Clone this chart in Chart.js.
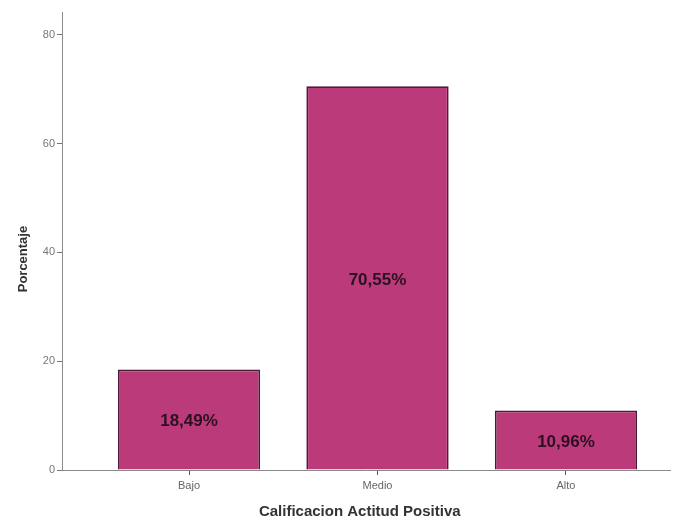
<!DOCTYPE html>
<html>
<head>
<meta charset="utf-8">
<script src="https://cdn.jsdelivr.net/npm/chart.js@4/dist/chart.umd.min.js"></script>
<style>
  html, body { margin: 0; padding: 0; background: #fff; }
  #wrap { width: 679px; height: 519px; }
</style>
</head>
<body>
<div id="wrap"><canvas id="barChart" width="679" height="519"></canvas></div>
<script>
// Calificacion Actitud Positiva (porcentaje)
const categories = ['Bajo', 'Medio', 'Alto'];
const percentages = [18.49, 70.55, 10.96];
const yTicks = [0, 20, 40, 60, 80];

const fmtPct = v => v.toFixed(2).replace('.', ',') + '%';

// labels inside each bar, centred
const barLabels = {
  id: 'barLabels',
  afterDatasetsDraw(chart) {
    const ctx = chart.ctx;
    const meta = chart.getDatasetMeta(0);
    ctx.save();
    ctx.font = 'bold 17px "Liberation Sans", Arial, sans-serif';
    ctx.fillStyle = '#2b1022';
    ctx.textAlign = 'center';
    ctx.textBaseline = 'middle';
    meta.data.forEach((bar, i) => {
      ctx.fillText(fmtPct(percentages[i]), bar.x, (bar.y + bar.base) / 2 + 2);
    });
    ctx.restore();
  }
};

const ctxBar = document.getElementById('barChart').getContext('2d');
new Chart(ctxBar, {
  type: 'bar',
  data: {
    datasets: [{
      label: 'Porcentaje',
      data: percentages.map((v, i) => ({ x: i, y: v })),
      backgroundColor: '#bb3a7a',
      borderColor: '#4e1a37',
      borderWidth: 1.8,
      barPercentage: 0.755,
      categoryPercentage: 1
    }]
  },
  options: {
    responsive: false,
    animation: false,
    layout: { padding: { top: 12, right: 9, left: 0, bottom: 0 } },
    plugins: {
      legend: { display: false },
      tooltip: { enabled: false }
    },
    scales: {
      x: {
        type: 'linear',
        offset: false,
        min: -0.674,
        max: 2.552,
        afterBuildTicks: s => { s.ticks = categories.map((c, i) => ({ value: i })); },
        afterFit: s => { s.height = 49; },
        border: { color: '#8a8a8a', width: 1 },
        grid: { offset: false, drawOnChartArea: false, drawTicks: true, tickLength: 5, color: '#555' },
        ticks: {
          autoSkip: false,
          maxRotation: 0,
          padding: 4,
          color: '#666',
          font: { family: '"Liberation Sans", Arial, sans-serif', size: 11 },
          callback: v => categories[v]
        },
        title: {
          display: true,
          // trailing spaces nudge the title left like the original
          text: 'Calificacion Actitud Positiva   ',
          color: '#333',
          font: { family: '"Liberation Sans", Arial, sans-serif', size: 15, weight: 'bold' },
          padding: { top: 0, bottom: -2 }
        }
      },
      y: {
        min: 0,
        max: 84.2,
        afterBuildTicks: s => { s.ticks = yTicks.map(v => ({ value: v })); },
        afterFit: s => { s.width = 62; },
        border: { color: '#8a8a8a', width: 1 },
        grid: { drawOnChartArea: false, drawTicks: true, tickLength: 5, color: '#777' },
        ticks: {
          padding: 2,
          color: '#777',
          font: { family: '"Liberation Sans", Arial, sans-serif', size: 11 }
        },
        title: {
          display: true,
          // trailing spaces push the rotated title down like the original
          text: 'Porcentaje          ',
          color: '#333',
          font: { family: '"Liberation Sans", Arial, sans-serif', size: 13, weight: 'bold' },
          padding: { top: 16, bottom: 0 }
        }
      }
    }
  },
  plugins: [barLabels]
});
</script>
</body>
</html>
